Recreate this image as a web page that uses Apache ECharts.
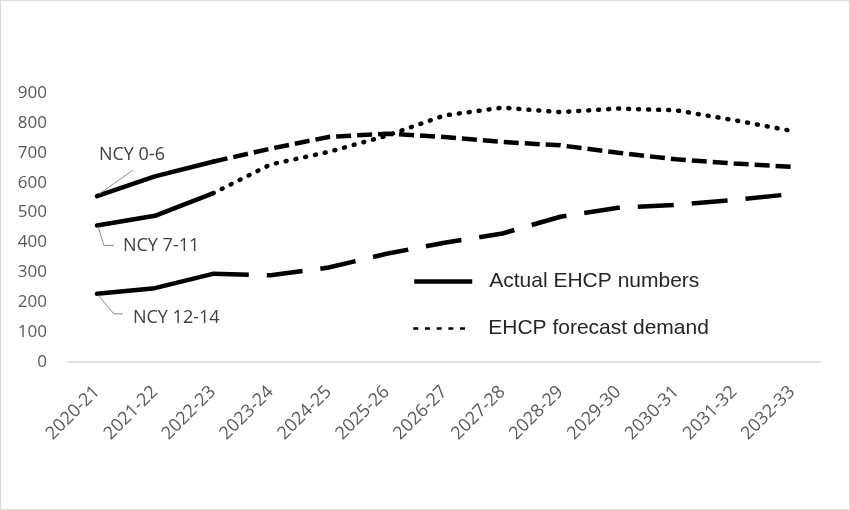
<!DOCTYPE html>
<html><head><meta charset="utf-8">
<script src="https://cdn.jsdelivr.net/npm/echarts@6/dist/echarts.min.js"></script>
<style>html,body{margin:0;padding:0;background:#fff}#c{width:850px;height:510px}</style>
</head><body><div id="c"></div>
<script>
const categories = ['2020-21','2021-22','2022-23','2023-24','2024-25','2025-26','2026-27','2027-28','2028-29','2029-30','2030-31','2031-32','2032-33'];
const ncy06 = [555,621,670,714,753,764,753,736,725,700,678,664,653];
const ncy711 = [457,489,564,661,703,757,825,851,836,848,842,809,773];
const ncy1214 = [228,247,295,290,316,362,399,430,486,516,526,542,562];
const actualYears = 3;
const groupNames = ['NCY 0-6','NCY 7-11','NCY 12-14'];
const legendNames = ['Actual EHCP numbers','EHCP forecast demand'];
const yMin = 0, yMax = 900, yStep = 100;

const groups = [ncy06, ncy711, ncy1214];
const forecastDash = [[15,6],[1,9],[36,18]];
const forecastCap = ['butt','round','butt'];

function actualPart(arr){ return arr.map((v,i)=> i < actualYears ? v : null); }
function forecastPart(arr){ return arr.map((v,i)=> i >= actualYears-1 ? v : null); }

const series = [];
groups.forEach((arr,gi)=>{
  series.push({type:'line', name: groupNames[gi]+' actual', data: actualPart(arr), symbol:'none', silent:true,
    lineStyle:{color:'#000', width:4.5, cap:'round', join:'round'}, z:3});
  series.push({type:'line', name: groupNames[gi]+' forecast', data: forecastPart(arr), symbol:'none', silent:true,
    lineStyle:{color:'#000', width:4.5, type: forecastDash[gi], cap: forecastCap[gi]}, z:2});
});
series.push({type:'line', name: legendNames[0], data: [], symbol:'none', lineStyle:{color:'#000', width:4.5, type:'solid'}, itemStyle:{color:'#000'}});
series.push({type:'line', name: legendNames[1], data: [], symbol:'none', lineStyle:{color:'#000', width:2.5, type:[5,6.7]}, itemStyle:{color:'#000'}});

const legendText = {fontFamily:'Liberation Sans', fontSize:21, color:'#262626', padding:[0,0,0,12]};
const legendCommon = {left:407, itemWidth:58, itemHeight:4, itemStyle:{opacity:0}, textStyle:legendText, selectedMode:false};
const chart = echarts.init(document.getElementById('c'), null, {renderer:'canvas'});
chart.setOption({
  animation:false,
  backgroundColor:'#fff',
  grid:{left:68, right:29, top:93, bottom:148, containLabel:false},
  xAxis:{type:'category', data:categories, boundaryGap:true,
    axisLine:{lineStyle:{color:'#d9d9d9', width:1.5}}, axisTick:{show:false},
    axisLabel:{rotate:45, margin:27, interval:0, fontFamily:'Open Sans', fontSize:18, color:'#595959'}},
  yAxis:{type:'value', min:yMin, max:yMax, interval:yStep,
    axisLine:{show:false}, axisTick:{show:false}, splitLine:{show:false},
    axisLabel:{margin:21, fontFamily:'Open Sans', fontSize:17, color:'#595959'}},
  legend:[
    Object.assign({data:[legendNames[0]], top:266, lineStyle:{width:4.5, type:'solid'}}, legendCommon),
    Object.assign({data:[legendNames[1]], top:313, lineStyle:{width:2.5}}, legendCommon)
  ],
  series: series
});

// annotations anchored to each group's first data point
const offsets = [
  {line:[[2,-2],[36,-26]], text:[2,-41]},
  {line:[[1,1],[7,20],[17,20]], text:[26,20]},
  {line:[[1,1],[17,20],[26,20]], text:[36,24]}
];
const graphics = [{type:'rect', shape:{x:0.5,y:0.5,width:849,height:509}, style:{fill:null, stroke:'#d9d9d9', lineWidth:1}, silent:true}];
groups.forEach((arr,gi)=>{
  const p = chart.convertToPixel({xAxisIndex:0, yAxisIndex:0}, [categories[0], arr[0]]);
  const o = offsets[gi];
  graphics.push({type:'polyline', shape:{points:o.line.map(d=>[p[0]+d[0], p[1]+d[1]])}, style:{stroke:'#8c8c8c', lineWidth:1, fill:null}, silent:true, z:10});
  graphics.push({type:'text', x:p[0]+o.text[0], y:p[1]+o.text[1], style:{text:groupNames[gi], fontFamily:'Open Sans', fontSize:18, fill:'#404040', verticalAlign:'middle', align:'left'}, silent:true, z:10});
});
chart.setOption({graphic:graphics});
</script>
</body></html>
